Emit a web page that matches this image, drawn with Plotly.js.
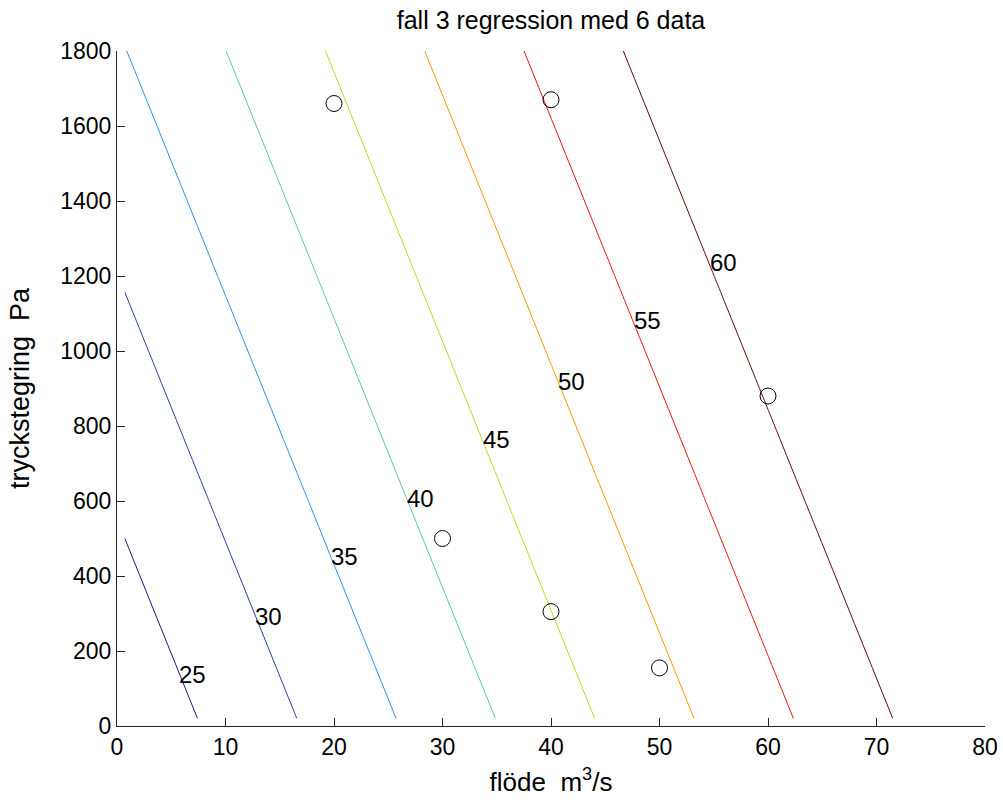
<!DOCTYPE html>
<html><head><meta charset="utf-8">
<script src="https://cdn.plot.ly/plotly-3.0.1.min.js"></script>
<style>body{margin:0;background:#fff}#chart{width:1003px;height:805px}</style>
</head><body><div id="chart"></div>
<script>
const gridX = [0.7, 20, 40, 60, 80];
const gridY = [20, 600, 1200, 1800];
const gridZ = [
  [21.33, 31.87, 42.80, 53.72, 64.64],
  [25.75, 36.29, 47.22, 58.14, 69.06],
  [30.32, 40.86, 51.79, 62.71, 73.63],
  [34.89, 45.43, 56.36, 67.28, 78.20]
];
const levels = [25, 30, 35, 40, 45, 50, 55, 60];
const levelColors = ['#1a1a80', '#2b3fa8', '#2e8ee8', '#5cc8a0', '#c2d62a', '#ff9500', '#ee1111', '#650a0a'];
// contour label anchor points
const labelX = [7.0, 14.0, 21.0, 28.0, 35.0, 41.9, 48.9, 55.9];
const labelY = [137, 293, 453, 607, 764, 920, 1081, 1236];
// measured data
const dataX = [20, 40, 60, 30, 40, 50];
const dataY = [1660, 1670, 880, 500, 305, 155];
const xTicks = [0, 10, 20, 30, 40, 50, 60, 70, 80];
const yTicks = [0, 200, 400, 600, 800, 1000, 1200, 1400, 1600, 1800];

const FONT = 'Liberation Sans, Arial, Helvetica, sans-serif';
const zmin = levels[0], zmax = levels[levels.length - 1];
const colorscale = levels.map((l, i) => [(l - zmin) / (zmax - zmin), levelColors[i]]);

const traces = [
  {
    type: 'contour', x: gridX, y: gridY, z: gridZ,
    zmin: zmin, zmax: zmax, autocontour: false,
    contours: {start: zmin, end: zmax, size: levels[1] - levels[0], coloring: 'lines', showlabels: false},
    colorscale: colorscale, showscale: false, line: {width: 1, smoothing: 0},
    hoverinfo: 'skip'
  },
  {
    type: 'scatter', mode: 'markers', x: dataX, y: dataY,
    marker: {symbol: 'circle-open', size: 16, color: '#000', line: {width: 1, color: '#000'}},
    hoverinfo: 'skip'
  }
];

const annotations = levels.map((l, i) => ({
  x: labelX[i], y: labelY[i], xref: 'x', yref: 'y', text: String(l), showarrow: false,
  xanchor: 'center', yanchor: 'middle', font: {family: FONT, size: 24, color: '#000'}
}));

const axisCommon = {
  showgrid: false, zeroline: false, showline: true, linecolor: '#262626', linewidth: 1,
  ticks: 'inside', ticklen: 8, tickcolor: '#262626', tickwidth: 1, mirror: false,
  tickfont: {family: FONT, size: 23, color: '#000'}, automargin: false
};

const layout = {
  width: 1003, height: 805,
  margin: {l: 117, r: 18, t: 51, b: 79},
  paper_bgcolor: '#fff', plot_bgcolor: '#fff',
  showlegend: false,
  font: {family: FONT, color: '#000'},
  title: {text: 'fall 3 regression med 6 data', font: {family: FONT, size: 25, color: '#000'},
          x: 0.5, xref: 'paper', y: 1 - 20 / 805, yref: 'container', yanchor: 'middle'},
  xaxis: Object.assign({}, axisCommon, {
    range: [0, 80], tickvals: xTicks, ticktext: xTicks.map(String),
    title: {text: 'flöde\u00a0 m<sup>3</sup>/s', font: {family: FONT, size: 26, color: '#000'}, standoff: 14}
  }),
  yaxis: Object.assign({}, axisCommon, {
    range: [0, 1800], tickvals: yTicks, ticktext: yTicks.map(String),
    title: {text: 'tryckstegring\u00a0 Pa', font: {family: FONT, size: 27, color: '#000'}, standoff: 22}
  }),
  annotations: annotations
};

Plotly.newPlot('chart', traces, layout, {displayModeBar: false, staticPlot: true});
</script>
</body></html>
